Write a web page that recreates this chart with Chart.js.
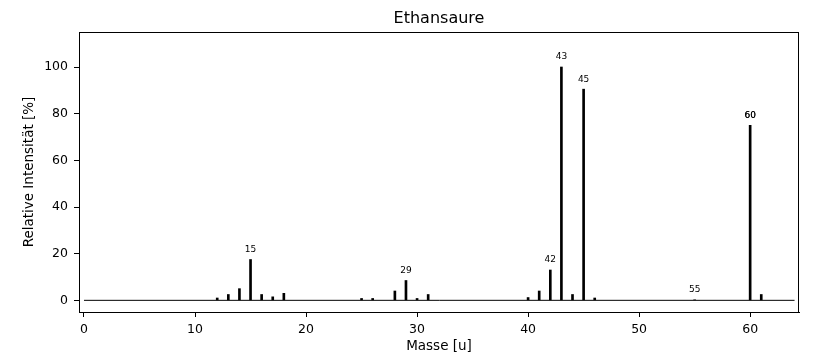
<!DOCTYPE html>
<html>
<head>
<meta charset="utf-8">
<script src="https://cdn.jsdelivr.net/npm/chart.js@4/dist/chart.umd.min.js"></script>
<style>
    html, body { margin: 0; padding: 0; background: #ffffff; }
    #wrap { width: 813px; height: 364px; }
</style>
</head>
<body>
<div id="wrap"><canvas id="spectrum"></canvas></div>
<script>
// Mass spectrum of acetic acid

const masses = [12, 13, 14, 15, 16, 17, 18, 25, 26, 28, 29, 30, 31, 40, 41, 42, 43, 44, 45, 46, 55, 60, 61];
const intensities = [1, 2.5, 5, 17.5, 2.5, 1.5, 3, 0.8, 0.8, 4, 8.5, 0.8, 2.5, 1.2, 4, 13, 100, 2.5, 90.5, 1, 0.2, 75, 2.5];
const labelMasses = [15, 29, 42, 43, 45, 55, 60, 60];
const xTicks = [0, 10, 20, 30, 40, 50, 60];
const yTicks = [0, 20, 40, 60, 80, 100];
const baselineX = [0, 64];

const FONT = 'DejaVu Sans';

// --- Plugins ---

const frameAndText = {
    id: 'frameAndText',
    afterDatasetsDraw(chart) {
        const { ctx, scales } = chart;
        ctx.save();
        ctx.fillStyle = '#000';
        ctx.font = '9px "' + FONT + '"';
        ctx.textAlign = 'center';
        ctx.textBaseline = 'middle';
        labelMasses.forEach((m) => {
            const i = masses.indexOf(m);
            const x = scales.x.getPixelForValue(m);
            const y = scales.y.getPixelForValue(intensities[i]) - 10;
            ctx.fillText(String(m), x, y);
        });
        ctx.restore();
    },
    afterDraw(chart) {
        const { ctx, chartArea } = chart;
        ctx.save();
        ctx.strokeStyle = '#000';
        ctx.lineWidth = 1;
        ctx.strokeRect(Math.round(chartArea.left) + 0.5, Math.round(chartArea.top) + 0.5,
            Math.round(chartArea.right - chartArea.left) - 1, Math.round(chartArea.bottom - chartArea.top));
        ctx.fillStyle = '#000';
        ctx.font = '16px "' + FONT + '"';
        ctx.textAlign = 'center';
        ctx.textBaseline = 'middle';
        ctx.fillText('Ethansaure', (chartArea.left + chartArea.right) / 2, 19);
        ctx.restore();
    }
};

// --- Chart ---

const ctx = document.getElementById('spectrum').getContext('2d');

new Chart(ctx, {
    type: 'bar',
    data: {
        datasets: [{
            type: 'line',
            data: baselineX.map((x) => ({ x: x, y: 0 })),
            borderColor: '#000',
            borderWidth: 1,
            pointRadius: 0,
            fill: false,
            order: 2
        }, {
            data: masses.map((m, i) => ({ x: m, y: intensities[i] })),
            backgroundColor: '#000',
            borderWidth: 0,
            barThickness: 2,
            order: 1
        }]
    },
    options: {
        responsive: true,
        maintainAspectRatio: false,
        animation: false,
        layout: { padding: { left: 0, right: 14, top: 32, bottom: 0 } },
        scales: {
            x: {
                type: 'linear',
                min: -0.45,
                max: 64.4,
                offset: false,
                afterFit: (s) => { s.height = 52; },
                afterBuildTicks: (s) => { s.ticks = xTicks.map((v) => ({ value: v })); },
                grid: { offset: false, drawOnChartArea: false, drawTicks: true, tickLength: 5, tickColor: '#000' },
                border: { display: true, color: '#000' },
                ticks: {
                    color: '#000',
                    padding: 5,
                    maxRotation: 0,
                    autoSkip: false,
                    font: { family: FONT, size: 12.5 }
                },
                title: {
                    display: true,
                    text: 'Masse [u]',
                    color: '#000',
                    padding: { top: 0, bottom: 9 },
                    font: { family: FONT, size: 13.5 }
                }
            },
            y: {
                min: -5,
                max: 115,
                afterFit: (s) => { s.width = 79; },
                afterBuildTicks: (s) => { s.ticks = yTicks.map((v) => ({ value: v })); },
                grid: { drawOnChartArea: false, drawTicks: true, tickLength: 5, tickColor: '#000' },
                border: { display: true, color: '#000' },
                ticks: {
                    color: '#000',
                    padding: 6,
                    font: { family: FONT, size: 12.5 }
                },
                title: {
                    display: true,
                    text: 'Relative Intensität [%]',
                    color: '#000',
                    padding: { top: 21, bottom: 0 },
                    font: { family: FONT, size: 13.5 }
                }
            }
        },
        plugins: {
            legend: { display: false },
            tooltip: { enabled: false }
        }
    },
    plugins: [frameAndText]
});
</script>
</body>
</html>
